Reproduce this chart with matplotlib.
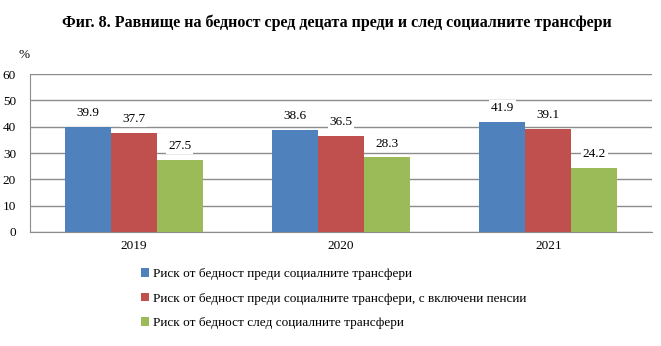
import matplotlib.pyplot as plt
import numpy as np

years = ['2019', '2020', '2021']
before_transfers = [39.9, 38.6, 41.9]
before_with_pensions = [37.7, 36.5, 39.1]
after_transfers = [27.5, 28.3, 24.2]
series_names = ['Риск от бедност преди социалните трансфери',
                'Риск от бедност преди социалните трансфери, с включени пенсии',
                'Риск от бедност след социалните трансфери']
colors = ['#4F81BD', '#C0504D', '#9BBB59']

plt.rcParams['font.family'] = ['Liberation Serif', 'DejaVu Serif']

fig = plt.figure(figsize=(6.61, 3.46), dpi=100)
ax = fig.add_axes([0.0454, 0.3295, 0.941, 0.4566])

x = np.arange(len(years))
w = 0.2215
series = [before_transfers, before_with_pensions, after_transfers]
for i, (vals, name, c) in enumerate(zip(series, series_names, colors)):
    pos = x + (i - 1) * w
    ax.bar(pos, vals, w, color=c, label=name, zorder=3)
    for p, v in zip(pos, vals):
        ax.annotate(f'{v:.1f}', (p, v), xytext=(0, 10), textcoords='offset points',
                    ha='center', va='center', fontsize=9.5, zorder=4,
                    bbox=dict(boxstyle='square,pad=0.15', fc='white', ec='none'))

ax.set_xlim(-0.5, 2.5)
ax.set_ylim(0, 60)
ax.set_yticks(range(0, 61, 10))
ax.set_xticks(x)
ax.set_xticklabels(years)
ax.grid(axis='y', color='#8c8c8c', linewidth=1.0, zorder=0)
for s in ['top', 'right']:
    ax.spines[s].set_visible(False)
for s in ['left', 'bottom']:
    ax.spines[s].set_color('#8c8c8c')
ax.tick_params(axis='both', length=0, labelsize=9.5)
ax.tick_params(axis='x', pad=6)
ax.tick_params(axis='y', pad=10)

ax.text(-0.01, 1.1, '%', transform=ax.transAxes, fontsize=9.5, ha='center')

fig.text(0.51, 0.935, 'Фиг. 8. Равнище на бедност сред децата преди и след социалните трансфери',
         ha='center', va='center', fontsize=11.5, fontweight='bold')

fig.legend(loc='upper left', bbox_to_anchor=(0.205, 0.24), frameon=False, fontsize=9.5,
           handlelength=0.6, handleheight=0.6, handletextpad=0.3, labelspacing=0.95,
           borderaxespad=0)

fig.savefig('out.png', dpi=100)
